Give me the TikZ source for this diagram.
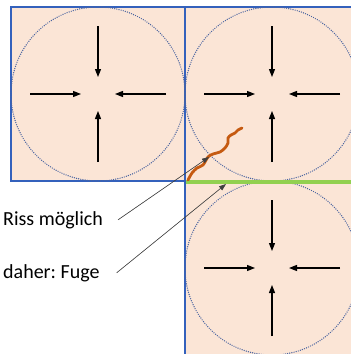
\documentclass[tikz,border=0pt]{standalone}
\usepackage{fontspec}
\setmainfont{Carlito}
\usetikzlibrary{arrows.meta,calc}
\definecolor{cellfill}{HTML}{FBE5D6}
\definecolor{cellline}{HTML}{3461BC}
\definecolor{ringline}{HTML}{4A64A0}
\definecolor{crackcol}{HTML}{C55A11}
\definecolor{jointcol}{HTML}{92D050}
\frenchspacing

\begin{document}
\begin{tikzpicture}[x=1pt,y=-1pt,
  cell/.style={draw=cellline,fill=cellfill,line width=1.1pt},
  ring/.style={draw=ringline,dash pattern=on 0pt off 2.2pt,line cap=round,line width=1.4pt},
  push/.style={-{Triangle[length=8pt,width=6pt]},line width=1.3pt},
  crackline/.style={draw=crackcol,line width=2.8pt,line cap=round},
  jointline/.style={draw=jointcol,line width=4pt},
  leader/.style={-{Triangle[length=7pt,width=5pt]},line width=0.6pt,draw=black!75,fill=black!75},
  note/.style={font=\fontsize{20}{24}\selectfont,inner sep=0pt,anchor=base west}]
  \useasboundingbox (0,0) rectangle (351,354);
  \clip (0,0) rectangle (351,354);
  % three cells
  \draw[cell] (11,7) rectangle (185,181);
  \draw[cell] (185,7) rectangle (359,181);
  \draw[cell] (185,182) rectangle (359,356);
  \foreach \cx/\cy in {98/94, 272/94, 272/268} {
    \draw[ring] (\cx,\cy) circle[radius=87];
    \draw[push] (\cx,\cy-68) -- (\cx,\cy-17);
    \draw[push] (\cx,\cy+68) -- (\cx,\cy+17);
    \draw[push] (\cx-68,\cy) -- (\cx-17,\cy);
    \draw[push] (\cx+68,\cy) -- (\cx+17,\cy);
  }
  % joint and crack
  \draw[jointline] (186,182) -- (355,182);
  \draw[crackline] plot[smooth,tension=0.5] coordinates {(188,180) (192,173) (197,168) (203,165)
    (208,157) (213,154) (220,152) (225,148) (228,143) (228,138) (231,135) (235,133) (238,130) (242,128)};
  \coordinate (risstip) at (209,157);
  \coordinate (fugetip) at (226,184);
  % labels
  \node[note] (riss) at (3,225) {Riss möglich};
  \node[note] (fuge) at (3,278) {daher: Fuge};
  \draw[leader] ([xshift=15pt]riss.east) -- (risstip);
  \draw[leader] ([xshift=17pt]fuge.east) -- (fugetip);
\end{tikzpicture}
\end{document}
